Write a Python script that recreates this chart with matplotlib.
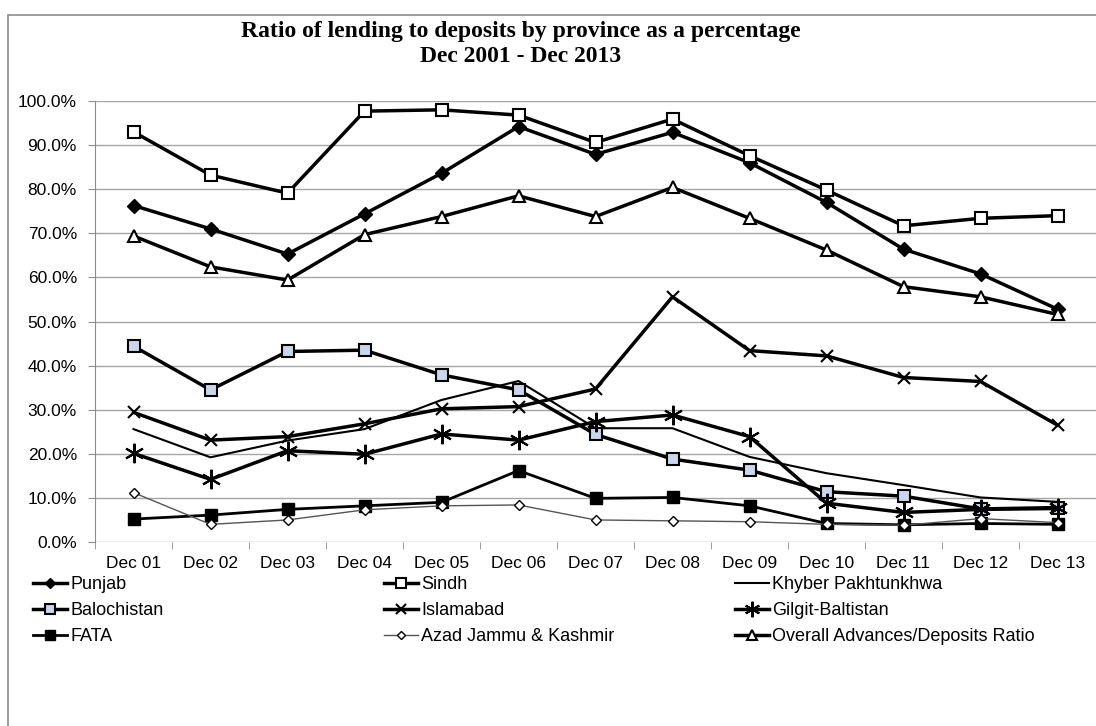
import numpy as np
import matplotlib
matplotlib.use('Agg')
import matplotlib.pyplot as plt
from matplotlib.patches import Rectangle
from matplotlib.ticker import FuncFormatter, FixedLocator

# data (percent)
months = ['Dec 01', 'Dec 02', 'Dec 03', 'Dec 04', 'Dec 05', 'Dec 06', 'Dec 07',
          'Dec 08', 'Dec 09', 'Dec 10', 'Dec 11', 'Dec 12', 'Dec 13']
punjab = [76.3, 71.0, 65.3, 74.4, 83.6, 94.2, 87.9, 92.9, 86.0, 77.0, 66.4, 60.8, 52.8]
sindh = [93.0, 83.2, 79.1, 97.7, 98.0, 96.8, 90.6, 95.9, 87.6, 79.8, 71.7, 73.4, 74.0]
kp = [25.6, 19.2, 23.0, 25.6, 32.2, 36.5, 25.8, 25.8, 19.3, 15.6, 12.9, 10.1, 9.1]
balochistan = [44.4, 34.5, 43.2, 43.5, 37.9, 34.5, 24.4, 18.8, 16.3, 11.4, 10.4, 7.5, 7.8]
islamabad = [29.4, 23.1, 23.9, 26.8, 30.2, 30.7, 34.7, 55.6, 43.4, 42.2, 37.3, 36.4, 26.5]
gilgit = [20.1, 14.2, 20.7, 19.9, 24.5, 23.1, 27.3, 28.8, 23.9, 8.8, 6.7, 7.4, 7.6]
fata = [5.2, 6.1, 7.4, 8.2, 9.0, 16.2, 9.9, 10.1, 8.2, 4.2, 3.9, 4.2, 4.0]
ajk = [11.2, 4.0, 5.0, 7.3, 8.2, 8.4, 5.0, 4.8, 4.6, 4.0, 3.8, 5.3, 4.4]
overall = [69.4, 62.4, 59.4, 69.7, 73.8, 78.5, 73.8, 80.4, 73.4, 66.2, 57.9, 55.6, 51.6]

W, H = 1096, 726
fig = plt.figure(figsize=(W / 100, H / 100), dpi=100)
sans = ['Liberation Sans', 'DejaVu Sans']

# chart frame (cropped on right/bottom like the source)
fig.patches.append(Rectangle((8 / W, -0.05), 1.2, (H - 15) / H + 0.05,
                             transform=fig.transFigure, fill=False,
                             edgecolor='#8c8c8c', lw=1.2))

ax = fig.add_axes([95 / W, 1 - 542 / H, (W - 95) / W, (542 - 101) / H])
x = np.arange(len(months))

asterisk = (6, 2, 0)
series = [
    ('Punjab', punjab, dict(color='black', lw=2.5, marker='D', ms=7, mfc='black', mec='black')),
    ('Sindh', sindh, dict(color='black', lw=2.5, marker='s', ms=9, mfc='white', mec='black', mew=1.5)),
    ('Khyber Pakhtunkhwa', kp, dict(color='black', lw=1.5)),
    ('Balochistan', balochistan, dict(color='black', lw=2.5, marker='s', ms=9, mfc='#c9d7ec', mec='black', mew=1.5)),
    ('Islamabad', islamabad, dict(color='black', lw=2.5, marker='x', ms=9, mec='black', mew=1.5)),
    ('Gilgit-Baltistan', gilgit, dict(color='black', lw=2.5, marker=asterisk, ms=14, mec='black', mew=1.5)),
    ('FATA', fata, dict(color='black', lw=2, marker='s', ms=9, mfc='black', mec='black')),
    ('Azad Jammu & Kashmir', ajk, dict(color='#555555', lw=1, marker='D', ms=5, mfc='white', mec='black', mew=1)),
    ('Overall Advances/Deposits Ratio', overall, dict(color='black', lw=2.5, marker='^', ms=9, mfc='white', mec='black', mew=1.5)),
]
handles = {}
for name, vals, st in series:
    ln, = ax.plot(x, np.array(vals) / 100, label=name, **st)
    handles[name] = ln

ax.set_xlim(-0.5, -0.5 + (W - 95) / 77.6)
ax.set_ylim(0, 1.0)
ax.yaxis.set_major_locator(FixedLocator(np.arange(0, 1.01, 0.1)))
ax.yaxis.set_major_formatter(FuncFormatter(lambda v, p: '%.1f%%' % (v * 100)))
ax.grid(axis='y', color='#a6a6a6', lw=1)
ax.set_axisbelow(True)
ax.set_xticks(x)
ax.set_xticklabels(months, fontsize=12.5, family=sans)
ax.set_xticks(np.arange(-0.5, 13, 1), minor=True)
ax.tick_params(axis='x', which='major', length=0, pad=10)
ax.tick_params(axis='x', which='minor', length=5, color='#8c8c8c', direction='out')
ax.tick_params(axis='y', length=5, color='#8c8c8c', pad=8, labelsize=12.5)
for lab in ax.get_yticklabels():
    lab.set_family(sans)
for s in ['top', 'right', 'bottom']:
    ax.spines[s].set_visible(False)
ax.spines['left'].set_color('#8c8c8c')

fig.text(521 / W, 1 - 31 / H, 'Ratio of lending to deposits by province as a percentage',
         ha='center', va='center', fontsize=17, fontweight='bold', family='Liberation Serif')
fig.text(521 / W, 1 - 56 / H, 'Dec 2001 - Dec 2013',
         ha='center', va='center', fontsize=17, fontweight='bold', family='Liberation Serif')

cols = [['Punjab', 'Balochistan', 'FATA'],
        ['Sindh', 'Islamabad', 'Azad Jammu & Kashmir'],
        ['Khyber Pakhtunkhwa', 'Gilgit-Baltistan', 'Overall Advances/Deposits Ratio']]
for i, col in enumerate(cols):
    fig.legend([handles[n] for n in col], col, loc='upper left',
               bbox_to_anchor=((33 + i * 351) / W, 1 - 576 / H),
               frameon=False, prop={'family': sans, 'size': 13},
               handlelength=1.9, handletextpad=0.15, labelspacing=0.5,
               markerscale=0.8, borderaxespad=0, borderpad=0)

fig.savefig('out.png', dpi=100)
